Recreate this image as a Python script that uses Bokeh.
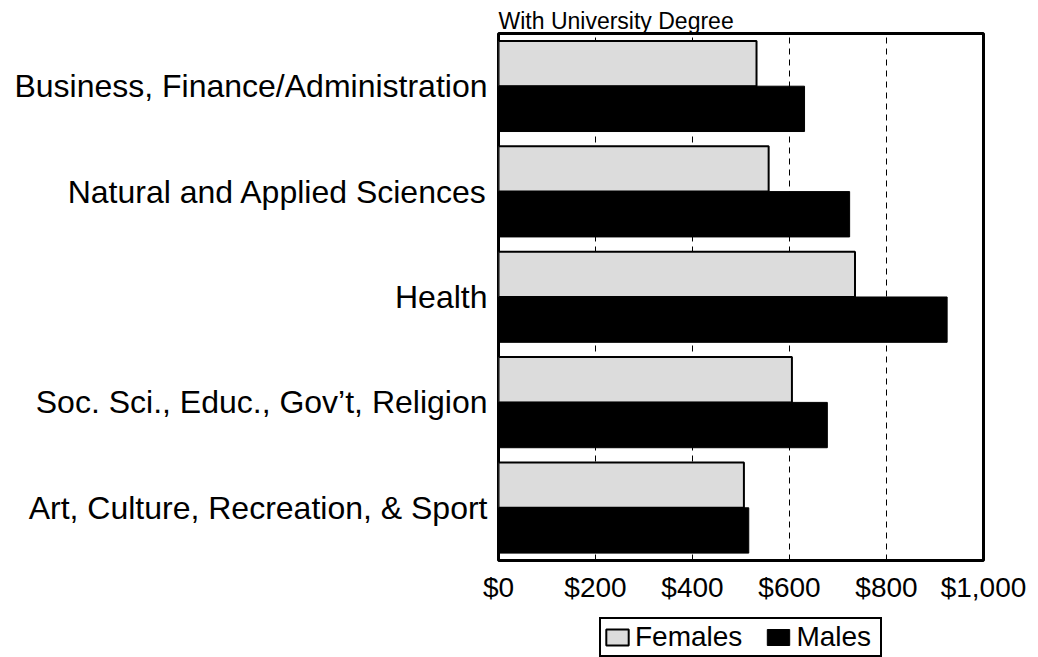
from bokeh.plotting import figure
from bokeh.layouts import column
from bokeh.models import (ColumnDataSource, FactorRange, NumeralTickFormatter,
                          FixedTicker, Legend, LegendItem, Range1d)
from bokeh.transform import dodge
from bokeh.embed import file_html
from bokeh.resources import INLINE

categories = ["Business, Finance/Administration",
              "Natural and Applied Sciences",
              "Health",
              "Soc. Sci., Educ., Gov’t, Religion",
              "Art, Culture, Recreation, & Sport"]
females = [532, 557, 735, 605, 506]
males = [631, 724, 925, 678, 516]
x_ticks = [0, 200, 400, 600, 800, 1000]
series_names = ["Females", "Males"]
title_text = "With University Degree"

FONT = "Liberation Sans"
FEMALE_FILL = "#dcdcdc"

source = ColumnDataSource(dict(cat=categories, females=females, males=males))

p = figure(width=1036, height=617,
           y_range=FactorRange(*reversed(categories)),
           x_range=Range1d(0, 1000),
           output_backend="svg", toolbar_location=None,
           min_border_left=498, min_border_right=53,
           min_border_top=33, min_border_bottom=57,
           title=title_text)

p.title.text_font = FONT
p.title.text_font_size = "23px"
p.title.text_font_style = "normal"
p.title.text_color = "black"
p.title.standoff = 0
p.title.offset = 0

p.outline_line_color = "black"
p.outline_line_width = 3
p.outline_line_alpha = 1.0

p.xgrid.grid_line_color = "black"
p.xgrid.grid_line_dash = "6 5"
p.xgrid.grid_line_width = 1
p.ygrid.grid_line_color = None

p.hbar(y=dodge('cat', 0.215, range=p.y_range), right='females', left=0,
       height=0.43, source=source, fill_color=FEMALE_FILL,
       line_color="black", line_width=2)
p.hbar(y=dodge('cat', -0.215, range=p.y_range), right='males', left=0,
       height=0.43, source=source, fill_color="black",
       line_color="black", line_width=1)

p.xaxis.ticker = FixedTicker(ticks=x_ticks)
p.xaxis.formatter = NumeralTickFormatter(format="$0,0")
p.xaxis.axis_line_color = None
p.xaxis.major_tick_line_color = None
p.xaxis.minor_tick_line_color = None
p.xaxis.major_tick_out = 0
p.xaxis.major_label_text_font = FONT
p.xaxis.major_label_text_font_size = "28px"
p.xaxis.major_label_text_color = "black"
p.xaxis.major_label_standoff = 11

p.yaxis.axis_line_color = None
p.yaxis.major_tick_line_color = None
p.yaxis.minor_tick_line_color = None
p.yaxis.major_tick_out = 0
p.yaxis.major_label_text_font = FONT
p.yaxis.major_label_text_font_size = "32px"
p.yaxis.major_label_text_color = "black"
p.yaxis.major_label_standoff = 11

# Legend strip below the chart (hidden renderers only feed the legend swatches)
lg = figure(width=1036, height=40, output_backend="svg", toolbar_location=None,
            y_range=FactorRange(*reversed(categories)),
            x_range=Range1d(0, 1000),
            x_axis_location=None, y_axis_location=None,
            min_border=0, min_border_left=0, min_border_right=0,
            min_border_top=0, min_border_bottom=0)
lg.outline_line_color = None
lg.grid.grid_line_color = None
lf = lg.hbar(y='cat', right='females', left=0, height=0.43, source=source,
             fill_color=FEMALE_FILL, line_color="black", line_width=2,
             visible=False)
lm = lg.hbar(y='cat', right='males', left=0, height=0.43, source=source,
             fill_color="black", line_color="black", line_width=1,
             visible=False)

legend = Legend(items=[LegendItem(label=series_names[0], renderers=[lf]),
                       LegendItem(label=series_names[1], renderers=[lm])],
                orientation="horizontal", location=(101, 0),
                click_policy="none",
                border_line_color="black", border_line_width=2,
                border_line_alpha=1.0,
                background_fill_color="white", background_fill_alpha=1.0,
                label_text_font=FONT, label_text_font_size="28px",
                label_text_color="black", label_height=20, label_width=82,
                glyph_width=28, glyph_height=20, label_standoff=4,
                spacing=22, padding=2, margin=0)
lg.add_layout(legend)

open("out.html", "w").write(file_html(column(p, lg), INLINE))
